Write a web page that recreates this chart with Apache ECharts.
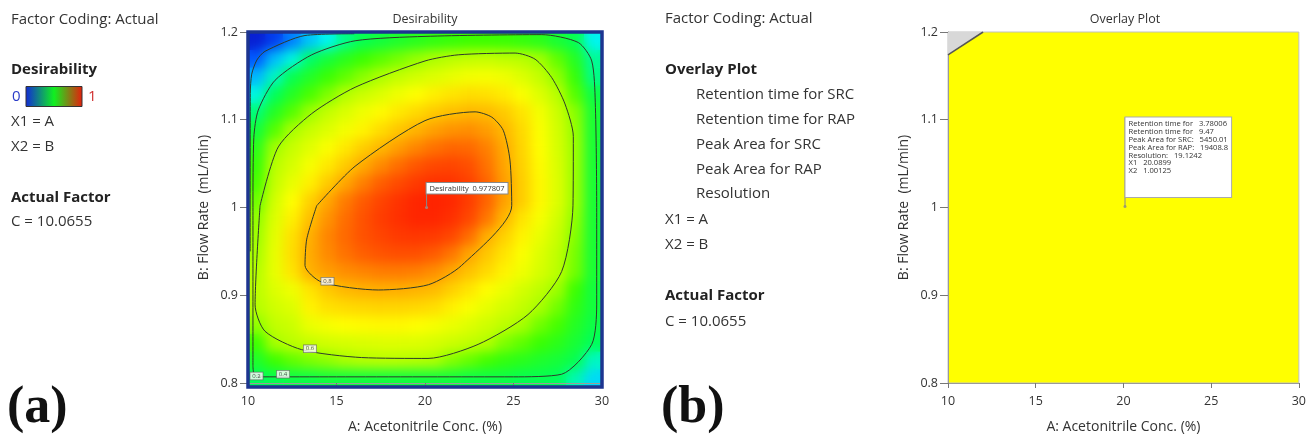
<!DOCTYPE html>
<html><head><meta charset="utf-8">
<script src="https://cdn.jsdelivr.net/npm/echarts@6/dist/echarts.min.js"></script>
<style>
html,body{margin:0;padding:0;background:#fff;}
#wrap{position:relative;width:1309px;height:439px;overflow:hidden;background:#fff;}
.layer{position:absolute;left:0;top:0;width:1309px;height:439px;}
#heatBlur{filter:blur(6px);clip-path:inset(32px 707px 52px 248px);}
</style></head><body>
<div id="wrap">
<div id="heatBase" class="layer"></div>
<div id="heatBlur" class="layer"></div>
<div id="main" class="layer"></div>
</div>
<script>
// ---------- data ----------
const aTicks = [10, 15, 20, 25, 30];
const bTicks = [0.8, 0.9, 1.0, 1.1, 1.2];
const aCells = [10.5,11.5,12.5,13.5,14.5,15.5,16.5,17.5,18.5,19.5,20.5,21.5,22.5,23.5,24.5,25.5,26.5,27.5,28.5,29.5];
const bCells = [0.81,0.83,0.85,0.87,0.89,0.91,0.93,0.95,0.97,0.99,1.01,1.03,1.05,1.07,1.09,1.11,1.13,1.15,1.17,1.19];
// desirability estimated at cell centres, one row per bCells value (bottom to top)
const desirability = [
 [0.40,0.41,0.42,0.42,0.43,0.43,0.43,0.43,0.43,0.43,0.43,0.43,0.42,0.42,0.42,0.41,0.41,0.40,0.34,0.26],
 [0.45,0.50,0.53,0.553,0.57,0.59,0.60,0.605,0.605,0.60,0.595,0.56,0.535,0.507,0.483,0.469,0.45,0.436,0.41,0.33],
 [0.50,0.59,0.61,0.625,0.64,0.645,0.65,0.655,0.656,0.655,0.645,0.632,0.618,0.60,0.556,0.528,0.497,0.472,0.44,0.40],
 [0.57,0.617,0.632,0.673,0.69,0.70,0.705,0.708,0.708,0.70,0.69,0.675,0.656,0.634,0.612,0.588,0.543,0.508,0.46,0.42],
 [0.602,0.637,0.655,0.716,0.74,0.748,0.754,0.758,0.756,0.752,0.744,0.719,0.695,0.668,0.643,0.619,0.59,0.544,0.48,0.43],
 [0.61,0.655,0.68,0.735,0.772,0.795,0.803,0.806,0.806,0.801,0.79,0.763,0.734,0.702,0.674,0.642,0.613,0.58,0.50,0.43],
 [0.60,0.67,0.735,0.803,0.825,0.84,0.85,0.857,0.86,0.855,0.84,0.812,0.78,0.75,0.715,0.68,0.645,0.61,0.545,0.44],
 [0.59,0.67,0.745,0.81,0.845,0.87,0.89,0.903,0.91,0.908,0.895,0.865,0.815,0.775,0.735,0.695,0.655,0.615,0.55,0.44],
 [0.58,0.665,0.74,0.805,0.85,0.88,0.905,0.925,0.94,0.945,0.94,0.92,0.875,0.805,0.76,0.715,0.67,0.626,0.56,0.44],
 [0.57,0.655,0.72,0.785,0.835,0.875,0.905,0.935,0.955,0.968,0.968,0.955,0.92,0.865,0.795,0.735,0.69,0.64,0.57,0.44],
 [0.54,0.64,0.70,0.76,0.815,0.86,0.895,0.925,0.95,0.968,0.975,0.965,0.935,0.885,0.82,0.765,0.71,0.655,0.58,0.44],
 [0.51,0.62,0.67,0.72,0.77,0.815,0.855,0.89,0.915,0.94,0.953,0.95,0.93,0.885,0.825,0.765,0.71,0.655,0.58,0.44],
 [0.49,0.605,0.645,0.69,0.73,0.77,0.81,0.845,0.875,0.90,0.92,0.925,0.91,0.87,0.815,0.76,0.705,0.65,0.58,0.44],
 [0.47,0.585,0.625,0.66,0.695,0.73,0.765,0.795,0.825,0.85,0.87,0.883,0.88,0.855,0.81,0.755,0.70,0.645,0.58,0.44],
 [0.43,0.52,0.59,0.625,0.655,0.685,0.715,0.745,0.775,0.80,0.82,0.835,0.84,0.825,0.795,0.75,0.695,0.64,0.575,0.44],
 [0.38,0.46,0.52,0.58,0.62,0.65,0.68,0.705,0.73,0.75,0.77,0.785,0.795,0.79,0.77,0.735,0.685,0.63,0.565,0.44],
 [0.31,0.40,0.46,0.51,0.555,0.60,0.63,0.655,0.68,0.70,0.72,0.735,0.745,0.74,0.725,0.695,0.655,0.605,0.52,0.42],
 [0.21,0.33,0.41,0.455,0.495,0.53,0.565,0.595,0.62,0.64,0.655,0.67,0.685,0.69,0.68,0.655,0.62,0.57,0.49,0.37],
 [0.11,0.22,0.31,0.39,0.435,0.47,0.50,0.525,0.55,0.575,0.595,0.61,0.62,0.625,0.615,0.605,0.585,0.53,0.46,0.36],
 [0.02,0.07,0.15,0.23,0.30,0.37,0.41,0.43,0.45,0.465,0.48,0.49,0.50,0.50,0.495,0.485,0.47,0.44,0.41,0.30]
];
// contour lines  [A, B]
const contour02 = [[10.12,0.95],[10.13,1.13],[10.21,1.152],[10.5,1.168],[10.96,1.178],[13.22,1.196],[16.0,1.198]];
const contour04 = [[10.28,0.82],[10.28,1.0],[10.33,1.08],[10.58,1.111],[11.53,1.145],[13.6,1.174],[16.05,1.19],[20.0,1.195],[26.6,1.197],[28.66,1.188],[29.42,1.167],[29.62,1.12],[29.7,1.0],[29.7,0.889],[29.42,0.844],[27.72,0.81],[25.0,0.807],[15.0,0.807],[10.8,0.807],[10.35,0.81],[10.28,0.82]];
const contour06 = [[10.68,1.002],[10.40,0.889],[10.96,0.859],[13.03,0.838],[16.42,0.829],[20.17,0.828],[23.0,0.844],[25.82,0.878],[27.72,0.927],[28.36,1.002],[28.38,1.081],[27.91,1.118],[27.16,1.148],[26.22,1.169],[25.09,1.176],[21.88,1.174],[20.0,1.167],[16.05,1.137],[13.6,1.107],[11.71,1.069],[10.68,1.002]];
const contour08 = [[13.88,1.002],[13.32,0.964],[13.22,0.934],[14.16,0.915],[17.36,0.906],[20.19,0.912],[22.07,0.934],[24.9,1.002],[24.8,1.054],[24.42,1.088],[23.77,1.103],[22.83,1.109],[20.0,1.099],[16.05,1.047],[13.88,1.002]];
const contourLabels = [[14.49,0.916,'0.8'],[13.5,0.839,'0.6'],[11.98,0.810,'0.4'],[10.48,0.808,'0.2']];
const optimumPoint = [20.09, 1.0];
const optimumText = 'Desirability  0.977807';
// overlay plot
const infeasibleRegion = [[10,1.2],[12.0,1.2],[10,1.174]];
const infeasibleEdge = [[12.0,1.2],[10,1.174]];
const overlayPoint = [20.0899, 1.00125];
const overlayLines = ['Retention time for   3.78006','Retention time for   9.47','Peak Area for SRC:   5450.01','Peak Area for RAP:   19408.8','Resolution:   19.1242','X1   20.0899','X2   1.00125'];
const leftPanel = [['Factor Coding: Actual',20,false],['Desirability',70,true],['X1 = A',122,false],['X2 = B',147,false],['Actual Factor',198,true],['C = 10.0655',222,false]];
const rightPanel = [['Factor Coding: Actual',19,false,0],['Overlay Plot',70,true,0],['Retention time for SRC',95,false,1],['Retention time for RAP',120,false,1],['Peak Area for SRC',145,false,1],['Peak Area for RAP',170,false,1],['Resolution',194,false,1],['X1 = A',220,false,0],['X2 = B',245,false,0],['Actual Factor',296,true,0],['C = 10.0655',322,false,0]];

const colorStops = ['#0a14c8','#0050ff','#00b0ff','#00f4f0','#00ff5a','#3cff00','#b4ff00','#ffff00','#ffb400','#ff5600','#ff1000'];
const FONT = 'Open Sans';
const G0 = {left:248, top:32, width:354, height:355};
const G1 = {left:948, top:32, width:354, height:355};

// ---------- heatmap layers ----------
const heatData = [];
desirability.forEach((row, j) => row.forEach((v, i) => heatData.push([i, j, v])));
function heatOption(){
  return {
    animation:false,
    backgroundColor:'transparent',
    grid:Object.assign({show:false}, G0),
    xAxis:{type:'category', data:aCells.map(String), show:false},
    yAxis:{type:'category', data:bCells.map(String), show:false},
    visualMap:{show:false, min:0, max:1, dimension:2, inRange:{color:colorStops}},
    series:[{type:'heatmap', data:heatData, silent:true, itemStyle:{borderWidth:0}, emphasis:{disabled:true}}]
  };
}
echarts.init(document.getElementById('heatBase')).setOption(heatOption());
echarts.init(document.getElementById('heatBlur')).setOption(heatOption());

// ---------- main layer ----------
function valueAxis(kind, gridIndex){
  const ticks = kind === 'x' ? aTicks : bTicks;
  const base = {
    type:'value', gridIndex,
    min:ticks[0], max:ticks[ticks.length-1], interval:+(ticks[1]-ticks[0]).toFixed(2),
    splitLine:{show:false},
    axisLine:{show:true, lineStyle:{color:'#9a9a9a', width:1}},
    axisTick:{show:true, length: kind==='x'?5:8, lineStyle:{color:'#777'}},
    axisLabel:{fontFamily:FONT, fontSize:12.5, color:'#333', margin: kind==='x'?12:10,
      formatter: v => String(+(+v).toFixed(1))},
    nameLocation:'middle',
    nameTextStyle:{fontFamily:FONT, fontSize:14, color:'#333'}
  };
  if (kind === 'x') { base.name = 'A: Acetonitrile Conc. (%)'; base.nameGap = 37; }
  else { base.name = 'B: Flow Rate  (mL/min)'; base.nameGap = 37; }
  return base;
}
const lineStyleC = {color:'#2f3a2a', width:1};
function contourSeries(data){
  return {type:'line', xAxisIndex:0, yAxisIndex:0, data, smooth:0.25, symbol:'none', silent:true, lineStyle:lineStyleC, z:3};
}
const chart = echarts.init(document.getElementById('main'));
const option = {
  animation:false,
  backgroundColor:'transparent',
  grid:[Object.assign({show:false}, G0),
        Object.assign({show:true, borderColor:'#c0c0c0', borderWidth:1, backgroundColor:'#ffff00'}, G1)],
  xAxis:[valueAxis('x',0), valueAxis('x',1)],
  yAxis:[valueAxis('y',0), valueAxis('y',1)],
  series:[
    contourSeries(contour02), contourSeries(contour04), contourSeries(contour06), contourSeries(contour08),
    {type:'scatter', xAxisIndex:0, yAxisIndex:0, data:contourLabels, symbolSize:0, silent:true, z:6,
     label:{show:true, position:'inside', formatter:p=>p.value[2], fontFamily:FONT, fontSize:6, color:'#222',
       backgroundColor:'#fff', borderColor:'#666', borderWidth:0.7, padding:[1,2,0,2]}},
    {type:'scatter', xAxisIndex:0, yAxisIndex:0, data:[optimumPoint], symbolSize:3, itemStyle:{color:'#999'}, silent:true, z:6},
    {type:'custom', xAxisIndex:1, yAxisIndex:1, data:[infeasibleRegion[0]], silent:true,
     renderItem:(params, api) => ({type:'polygon', shape:{points:infeasibleRegion.map(p=>api.coord(p))}, style:{fill:'#d8d8d8', stroke:null}})},
    {type:'line', xAxisIndex:1, yAxisIndex:1, data:infeasibleEdge, symbol:'none', silent:true, lineStyle:{color:'#555', width:1.5}},
    {type:'scatter', xAxisIndex:1, yAxisIndex:1, data:[overlayPoint], symbolSize:3, itemStyle:{color:'#888'}, silent:true, z:6}
  ]
};
chart.setOption(option);

// ---------- texts & flags ----------
const graphics = [];
function txt(text, x, y, opts){
  graphics.push({type:'text', x, y, silent:true, z:100,
    style:Object.assign({text, fontFamily:FONT, fontSize:15, fill:'#333', textVerticalAlign:'middle'}, opts||{})});
}
leftPanel.forEach(([t,y,b]) => txt(t, 11, y, b?{fontWeight:'bold', fill:'#222'}:{}));
rightPanel.forEach(([t,y,b,ind]) => txt(t, ind?696:665, y, b?{fontWeight:'bold', fill:'#222'}:{}));
// frame of the desirability plot
graphics.push({type:'rect', silent:true, z:90, shape:{x:G0.left, y:G0.top, width:G0.width, height:G0.height},
  style:{fill:null, stroke:'#1d3590', lineWidth:3.5}});
// colour scale legend
txt('0', 12, 97, {fill:'#2a3cc8', fontSize:15});
txt('1', 88, 97, {fill:'#d03030', fontSize:15});
graphics.push({type:'rect', shape:{x:26, y:86.5, width:56, height:20}, silent:true, z:100,
  style:{stroke:'#333', lineWidth:1, fill:new echarts.graphic.LinearGradient(0,0,1,0,[
    {offset:0, color:'#1228d8'},{offset:0.5, color:'#10f020'},{offset:1, color:'#e81c0c'}])}});
// titles
txt('Desirability', G0.left + G0.width/2, 19, {fontSize:12.5, textAlign:'center'});
txt('Overlay Plot', G1.left + G1.width/2, 19, {fontSize:12.5, textAlign:'center'});
// panel letters
txt('(a)', 7, 409, {fontFamily:'Liberation Serif', fontWeight:'bold', fontSize:52, fill:'#111'});
txt('(b)', 661, 409, {fontFamily:'Liberation Serif', fontWeight:'bold', fontSize:52, fill:'#111'});
// flags
const pA = chart.convertToPixel({gridIndex:0}, optimumPoint);
graphics.push({type:'line', silent:true, z:100, shape:{x1:pA[0], y1:pA[1], x2:pA[0], y2:pA[1]-14}, style:{stroke:'#888', lineWidth:1}});
graphics.push({type:'text', x:pA[0], y:pA[1]-24.5, silent:true, z:101,
  style:{text:optimumText, fontFamily:FONT, fontSize:7.5, fill:'#333', backgroundColor:'#fff', borderColor:'#888', borderWidth:1, padding:[1.5,3,1,3]}});
const pB = chart.convertToPixel({gridIndex:1}, overlayPoint);
graphics.push({type:'line', silent:true, z:100, shape:{x1:pB[0], y1:pB[1], x2:pB[0], y2:pB[1]-89}, style:{stroke:'#888', lineWidth:1}});
graphics.push({type:'text', x:pB[0]+0.5, y:pB[1]-89, silent:true, z:101,
  style:{text:overlayLines.join('\n'), fontFamily:FONT, fontSize:7.6, lineHeight:7.8, fill:'#333', backgroundColor:'#fff', borderColor:'#aaa', borderWidth:1, padding:[3,3,22,3]}});
chart.setOption({graphic:graphics});
</script>
</body></html>
